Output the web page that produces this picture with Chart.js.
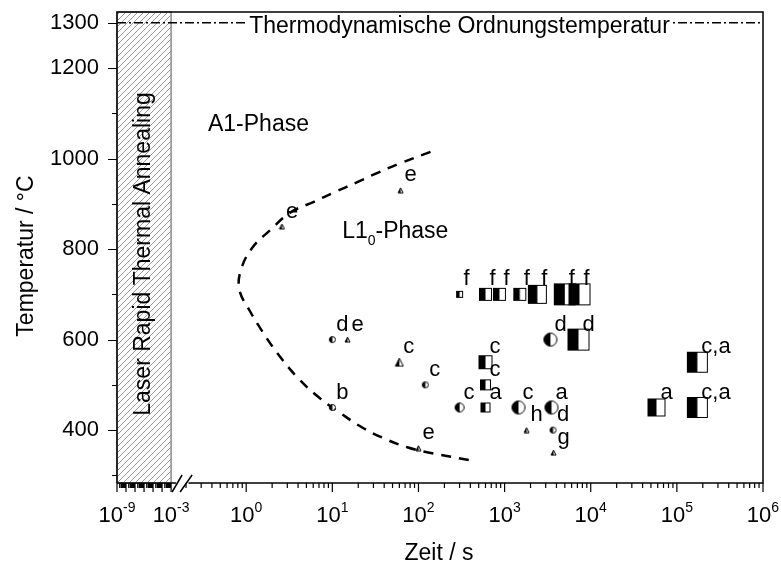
<!DOCTYPE html>
<html>
<head>
<meta charset="utf-8">
<script src="https://cdn.jsdelivr.net/npm/chart.js@4.4.0/dist/chart.umd.min.js"></script>
<style>
    html, body { margin: 0; padding: 0; background: #fff; }
</style>
</head>
<body>
<canvas id="ttt_chart" width="781" height="566"></canvas>
<script>
// phase boundary A1 / L1_0 (dashed), upper branch then lower branch
var boundaryTime = [138, 62, 33, 19.5, 10.7, 6.0, 3.2, 1.9, 1.2, 0.89, 0.83, 1.12, 1.55, 2.3, 3.9, 6.9, 12.3, 23, 44, 74, 126, 470];
var boundaryTemp = [1015, 990, 968, 948, 926, 904, 880, 842, 805, 760, 712, 661, 617, 570, 517, 473, 438, 404, 378, 362, 351, 331];

// order temperature
var orderTemp = 1300;

// triangles
var triTime = [2.6, 62, 15, 60, 100, 1800, 3700];
var triTemp = [850, 930, 600, 550, 360, 400, 350];
var triRef = ['e', 'e', 'e', 'c', 'e', 'h', 'g'];
var triSize = [5, 5, 5, 8, 5, 5, 5];

// half filled circles
var circTime = [10, 120, 10, 300, 1450, 3500, 3650, 3400];
var circTemp = [600, 500, 450, 450, 450, 450, 400, 600];
var circRef = ['d', 'c', 'b', 'c', 'c', 'a', 'd', 'd'];
var circSize = [7, 7, 7, 10, 14, 14, 7, 14];

// half filled squares
var sqTime = [300, 600, 870, 1500, 2400, 5000, 7400, 7200, 600, 600, 600, 58000, 173000, 173000];
var sqTemp = [700, 700, 700, 700, 700, 700, 700, 600, 550, 500, 450, 450, 450, 550];
var sqRef = ['f', 'f', 'f', 'f', 'f', 'f', 'f', 'd', 'c', 'c', 'a', 'a', 'c,a', 'c,a'];
var sqSize = [7, 13, 13, 13, 19, 22, 22, 22, 14, 11, 10, 18, 21, 21];

// axes
var xTickExp = [-9, -3, 0, 1, 2, 3, 4, 5, 6];
var yTickValues = [300, 400, 500, 600, 700, 800, 900, 1000, 1100, 1200, 1300];
var yTickLabels = [400, 600, 800, 1000, 1200, 1300];

var FONT = "'Liberation Sans', Arial, sans-serif";

// broken log axis: 1e-9..1e-3 squeezed, then normal decades from 1e-0.7
function xPos(t) {
    var lt = Math.log10(t);
    if (lt <= -3) return -1.5 + (lt + 9) * 0.628 / 6;
    return lt;
}

function toPoints(times, temps) {
    return times.map(function (t, i) { return { x: xPos(t), y: temps[i] }; });
}

function marker(shape, s) {
    var c = document.createElement('canvas');
    c.width = s + 2; c.height = s + 2;
    var g = c.getContext('2d');
    var m = (s + 2) / 2;
    g.lineWidth = 1;
    g.strokeStyle = '#000';
    if (shape === 'square') {
        g.fillStyle = '#fff'; g.fillRect(1, 1, s, s);
        g.fillStyle = '#000'; g.fillRect(1, 1, s / 2, s);
        g.strokeRect(1.5, 1.5, s - 1, s - 1);
    } else if (shape === 'circle') {
        var r = s / 2;
        g.beginPath(); g.arc(m, m, r - 0.5, 0, 2 * Math.PI); g.fillStyle = '#fff'; g.fill();
        g.beginPath(); g.arc(m, m, r - 0.5, Math.PI / 2, Math.PI * 1.5); g.closePath(); g.fillStyle = '#000'; g.fill();
        g.beginPath(); g.arc(m, m, r - 0.5, 0, 2 * Math.PI); g.stroke();
    } else {
        g.beginPath(); g.moveTo(m, 1); g.lineTo(s + 1, s + 1); g.lineTo(1, s + 1); g.closePath();
        g.fillStyle = '#fff'; g.fill();
        g.beginPath(); g.moveTo(m, 1); g.lineTo(m, s + 1); g.lineTo(1, s + 1); g.closePath();
        g.fillStyle = '#000'; g.fill();
        g.beginPath(); g.moveTo(m, 1); g.lineTo(s + 1, s + 1); g.lineTo(1, s + 1); g.closePath(); g.stroke();
    }
    return c;
}

function markerSet(label, shape, times, temps, refs, sizes) {
    return {
        label: label,
        data: toPoints(times, temps),
        refs: refs,
        pointStyle: sizes.map(function (s) { return marker(shape, s); }),
        pointRadius: sizes.map(function (s) { return s / 2; }),
        showLine: false
    };
}

var decorations = {
    id: 'decorations',
    beforeDatasetsDraw: function (chart) {
        var ctx = chart.ctx, xs = chart.scales.x, a = chart.chartArea;
        var x0 = xs.getPixelForValue(xPos(1e-9)), x1 = xs.getPixelForValue(xPos(1e-3));
        ctx.save();
        ctx.beginPath(); ctx.rect(x0, a.top, x1 - x0, a.bottom - a.top); ctx.clip();
        ctx.strokeStyle = '#9a9a9a'; ctx.lineWidth = 1;
        for (var k = -600; k < 100; k += 6) {
            ctx.beginPath(); ctx.moveTo(x0 + k, a.bottom); ctx.lineTo(x0 + k + 600, a.bottom - 600); ctx.stroke();
        }
        ctx.restore();
        ctx.save();
        ctx.strokeStyle = '#8a8a8a'; ctx.lineWidth = 1.5;
        ctx.strokeRect(x0, a.top, x1 - x0, a.bottom - a.top);
        ctx.translate((x0 + x1) / 2, 254);
        ctx.rotate(-Math.PI / 2);
        ctx.fillStyle = '#000'; ctx.font = '23px ' + FONT;
        ctx.textAlign = 'center'; ctx.textBaseline = 'middle';
        ctx.fillText('Laser Rapid Thermal Annealing', 0, 0);
        ctx.restore();
    },
    afterDatasetsDraw: function (chart) {
        var ctx = chart.ctx, xs = chart.scales.x, ys = chart.scales.y;
        ctx.save();
        ctx.fillStyle = '#000';
        ctx.font = '22px ' + FONT;
        ctx.textAlign = 'left'; ctx.textBaseline = 'middle';
        chart.data.datasets.forEach(function (ds, i) {
            if (!ds.refs) return;
            chart.getDatasetMeta(i).data.forEach(function (p, j) {
                ctx.fillText(ds.refs[j], p.x + 4, p.y - 15);
            });
        });

        // order temperature text
        ctx.font = '23px ' + FONT;
        ctx.textAlign = 'center';
        var cx = 459.5, cy = ys.getPixelForValue(orderTemp) + 4;
        var w = ctx.measureText('Thermodynamische Ordnungstemperatur').width;
        ctx.fillStyle = '#fff';
        ctx.fillRect(cx - w / 2 - 2, cy - 12, w + 4, 26);
        ctx.fillStyle = '#000';
        ctx.fillText('Thermodynamische Ordnungstemperatur', cx, cy);

        // phase names
        ctx.textAlign = 'left';
        ctx.fillText('A1-Phase', xs.getPixelForValue(xPos(0.36)), ys.getPixelForValue(1074));
        var lx = xs.getPixelForValue(xPos(13)), ly = ys.getPixelForValue(838);
        ctx.fillText('L1', lx, ly);
        var w1 = ctx.measureText('L1').width;
        ctx.font = '14px ' + FONT;
        ctx.fillText('0', lx + w1, ly + 9);
        var w2 = ctx.measureText('0').width;
        ctx.font = '23px ' + FONT;
        ctx.fillText('-Phase', lx + w1 + w2, ly);
        ctx.restore();
    },
    afterDraw: function (chart) {
        var ctx = chart.ctx, xs = chart.scales.x, ys = chart.scales.y, a = chart.chartArea;
        var xb0 = xs.getPixelForValue(xPos(1e-3)) + 5, xb1 = xs.getPixelForValue(-0.67);
        ctx.save();
        ctx.strokeStyle = '#000'; ctx.lineWidth = 1.5;
        ctx.beginPath();
        ctx.moveTo(a.left, a.bottom); ctx.lineTo(a.left, a.top); ctx.lineTo(a.right, a.top); ctx.lineTo(a.right, a.bottom);
        ctx.lineTo(xb1, a.bottom);
        ctx.moveTo(a.left, a.bottom); ctx.lineTo(xb0, a.bottom);
        ctx.stroke();
        // break marks
        ctx.lineWidth = 1.5;
        ctx.beginPath();
        ctx.moveTo(xb0 - 4, a.bottom + 9); ctx.lineTo(xb0 + 6, a.bottom - 8);
        ctx.moveTo(xb0 + 4, a.bottom + 9); ctx.lineTo(xb0 + 16, a.bottom - 8);
        ctx.stroke();

        // y ticks
        ctx.lineWidth = 1.2;
        ctx.beginPath();
        yTickValues.forEach(function (v) {
            var py = Math.round(ys.getPixelForValue(v)) + 0.5;
            var len = yTickLabels.indexOf(v) >= 0 ? 9 : 5;
            ctx.moveTo(a.left, py); ctx.lineTo(a.left - len, py);
        });
        // x ticks
        for (var k = -9; k <= 6; k++) {
            for (var m = 1; m <= 9; m++) {
                var t = m * Math.pow(10, k);
                var lt = Math.log10(t);
                if (lt > -3 && lt < -0.71) continue;
                if (k === 6 && m > 1) continue;
                if (k === -3 && m > 1) continue;
                var px = xs.getPixelForValue(xPos(t));
                var len2 = (m === 1) ? 9 : 5;
                ctx.moveTo(px, a.bottom); ctx.lineTo(px, a.bottom + len2);
            }
        }
        ctx.stroke();

        // x tick labels
        ctx.fillStyle = '#000';
        ctx.textBaseline = 'alphabetic';
        xTickExp.forEach(function (e) {
            var px = xs.getPixelForValue(xPos(Math.pow(10, e)));
            ctx.font = '22px ' + FONT;
            var wb = ctx.measureText('10').width;
            ctx.font = '14px ' + FONT;
            var we = ctx.measureText(String(e)).width;
            var left = px - (wb + we) / 2;
            ctx.font = '22px ' + FONT;
            ctx.textAlign = 'left';
            ctx.fillText('10', left, 522);
            ctx.font = '14px ' + FONT;
            ctx.fillText(String(e), left + wb, 512);
        });

        // axis titles
        ctx.font = '23px ' + FONT;
        ctx.textAlign = 'center'; ctx.textBaseline = 'middle';
        ctx.fillText('Zeit / s', 439, 554);
        ctx.translate(27, 256);
        ctx.rotate(-Math.PI / 2);
        ctx.fillText('Temperatur / \u00B0C', 0, 0);
        ctx.restore();
    }
};

new Chart(document.getElementById('ttt_chart').getContext('2d'), {
    type: 'scatter',
    data: {
        datasets: [
            markerSet('squares', 'square', sqTime, sqTemp, sqRef, sqSize),
            markerSet('circles', 'circle', circTime, circTemp, circRef, circSize),
            markerSet('triangles', 'triangle', triTime, triTemp, triRef, triSize),
            {
                label: 'Ordnungstemperatur',
                data: [{ x: xPos(1e-9), y: orderTemp }, { x: xPos(1e6), y: orderTemp }],
                showLine: true,
                borderColor: '#000',
                borderWidth: 1.5,
                borderDash: [9, 3, 2, 3],
                pointRadius: 0
            },
            {
                label: 'Phasengrenze',
                data: toPoints(boundaryTime, boundaryTemp),
                showLine: true,
                borderColor: '#000',
                borderWidth: 2.5,
                borderDash: [10, 8],
                tension: 0.4,
                pointRadius: 0
            }
        ]
    },
    options: {
        responsive: false,
        animation: false,
        devicePixelRatio: 1,
        layout: { padding: { top: 12, right: 18, left: 0, bottom: 0 } },
        plugins: { legend: { display: false }, tooltip: { enabled: false } },
        scales: {
            x: {
                type: 'linear', min: -1.5, max: 6,
                grid: { display: false, drawTicks: false },
                border: { display: false },
                ticks: { display: false },
                afterFit: function (s) { s.height = 83; s.paddingLeft = 0; s.paddingRight = 0; }
            },
            y: {
                type: 'linear', min: 283, max: 1324,
                grid: { display: false, drawTicks: false },
                border: { display: false },
                afterBuildTicks: function (s) { s.ticks = yTickValues.map(function (v) { return { value: v }; }); },
                ticks: {
                    autoSkip: false,
                    padding: 18,
                    color: '#000',
                    font: { family: FONT, size: 22 },
                    callback: function (v) { return yTickLabels.indexOf(v) >= 0 ? String(v) : ''; }
                },
                afterFit: function (s) { s.width = 117; s.paddingTop = 0; s.paddingBottom = 0; }
            }
        }
    },
    plugins: [decorations]
});
</script>
</body>
</html>
